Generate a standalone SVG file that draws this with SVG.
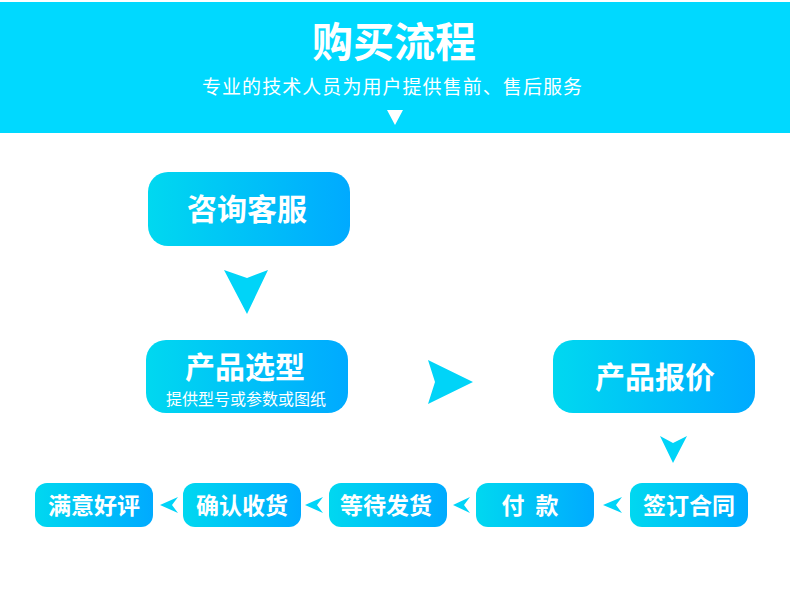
<svg xmlns="http://www.w3.org/2000/svg" width="790" height="590" viewBox="0 0 790 590">
<defs>
<linearGradient id="g" x1="0" y1="0" x2="1" y2="0">
<stop offset="0" stop-color="#00d8f0"/>
<stop offset="1" stop-color="#00aaff"/>
</linearGradient>
<style>
text{font-family:"Noto Sans CJK SC","Noto Sans",sans-serif;fill:#fff;text-anchor:middle}
.box{fill:url(#g)}
.big{font-size:30px;font-weight:bold}
.sm{font-size:23px;font-weight:bold}
.sub{font-size:16px}
.arr{fill:#00d4f8}
</style>
</defs>
<rect width="790" height="590" fill="#fff"/>
<g id="header">
<rect x="0" y="2" width="790" height="131" fill="#00d9ff"/>
<text x="394" y="57" style="font-size:41px;font-weight:bold">购买流程</text>
<text x="392" y="94" style="font-size:19px" textLength="380" lengthAdjust="spacing">专业的技术人员为用户提供售前、售后服务</text>
<polygon points="387,110 403,110 395,125" fill="#fff"/>
</g>
<g id="n1"><rect class="box" x="148" y="172" width="202" height="74" rx="20"/><text class="big" x="247" y="220">咨询客服</text></g>
<g id="n2"><rect class="box" x="146" y="340" width="202" height="73" rx="20"/><text class="big" x="245" y="378">产品选型</text><text class="sub" x="246" y="405">提供型号或参数或图纸</text></g>
<g id="n3"><rect class="box" x="553" y="340" width="202" height="73" rx="20"/><text class="big" x="655" y="388">产品报价</text></g>
<g id="n4"><rect class="box" x="630" y="483" width="118" height="44" rx="12"/><text class="sm" x="689" y="514">签订合同</text></g>
<g id="n5"><rect class="box" x="476" y="483" width="118" height="44" rx="12"/><text class="sm" x="530" y="514" xml:space="preserve">付<tspan dx="6"> </tspan>款</text></g>
<g id="n6"><rect class="box" x="329" y="483" width="118" height="44" rx="12"/><text class="sm" x="386" y="514">等待发货</text></g>
<g id="n7"><rect class="box" x="183" y="483" width="118" height="44" rx="12"/><text class="sm" x="242" y="514">确认收货</text></g>
<g id="n8"><rect class="box" x="35" y="483" width="118" height="44" rx="12"/><text class="sm" x="94" y="514">满意好评</text></g>
<g id="connectors" class="arr">
<polygon points="224,270 247,278 268,270 247,314"/>
<polygon points="428,360 473,382 428,404 435,382"/>
<polygon points="660,436 673,443 687,436 673,463"/>
<polygon points="622,497 603,505 622,513 616,505"/>
<polygon points="470,497 453,505 470,513 464,505"/>
<polygon points="323,497 305,505 323,513 317,505"/>
<polygon points="178,497 160,505 178,513 172,505"/>
</g>
</svg>
